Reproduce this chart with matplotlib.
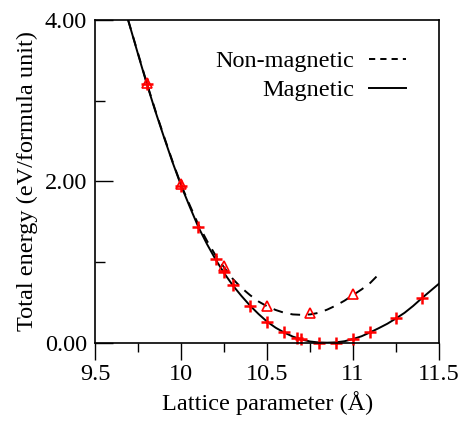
import matplotlib as mpl
mpl.use('Agg')
import matplotlib.pyplot as plt
from matplotlib.ticker import MultipleLocator, FixedLocator

plt.rcParams['font.family'] = ['Liberation Serif', 'DejaVu Serif']

# magnetic calculations (+)
mag_x = [9.8, 10.0, 10.1, 10.2, 10.25, 10.3, 10.4, 10.5, 10.6, 10.675, 10.7,
         10.8, 10.9, 11.0, 11.1, 11.25, 11.4]
mag_y = [3.20, 1.94, 1.43, 1.04, 0.87, 0.71, 0.46, 0.26, 0.13, 0.053, 0.045,
         0.0, 0.0, 0.045, 0.13, 0.30, 0.55]

# non-magnetic calculations (triangles)
nm_x = [9.8, 10.0, 10.25, 10.5, 10.75, 11.0]
nm_y = [3.22, 1.96, 0.95, 0.46, 0.37, 0.60]

# fitted curves
mag_fit_x = [9.69, 9.75, 9.8, 9.85, 9.9, 9.95, 10.0, 10.05, 10.1, 10.15, 10.2,
             10.25, 10.3, 10.35, 10.4, 10.45, 10.5, 10.55, 10.6, 10.65, 10.7,
             10.75, 10.8, 10.85, 10.9, 10.95, 11.0, 11.05, 11.1, 11.15, 11.2,
             11.25, 11.3, 11.35, 11.4, 11.45, 11.5]
mag_fit_y = [4.00, 3.56, 3.20, 2.86, 2.54, 2.23, 1.94, 1.68, 1.43, 1.22, 1.03,
             0.86, 0.71, 0.58, 0.46, 0.355, 0.26, 0.185, 0.125, 0.075, 0.04,
             0.015, 0.003, 0.0, 0.004, 0.018, 0.045, 0.08, 0.128, 0.18, 0.235,
             0.30, 0.37, 0.455, 0.55, 0.64, 0.73]

nm_fit_x = [9.69, 9.75, 9.8, 9.85, 9.9, 9.95, 10.0, 10.05, 10.1, 10.15, 10.2,
            10.25, 10.3, 10.35, 10.4, 10.45, 10.5, 10.55, 10.6, 10.65, 10.7,
            10.75, 10.8, 10.85, 10.9, 10.95, 11.0, 11.05, 11.1, 11.165]
nm_fit_y = [4.00, 3.57, 3.21, 2.87, 2.55, 2.24, 1.95, 1.70, 1.46, 1.26, 1.08,
            0.93, 0.79, 0.68, 0.59, 0.51, 0.45, 0.405, 0.37, 0.35, 0.345,
            0.35, 0.37, 0.41, 0.46, 0.52, 0.59, 0.66, 0.74, 0.88]

x_ticks = [9.5, 10, 10.5, 11, 11.5]
x_tick_labels = ['9.5', '10', '10.5', '11', '11.5']
y_ticks = [0, 2, 4]
y_tick_labels = ['0.00', '2.00', '4.00']

fig = plt.figure(figsize=(4.61, 4.21), dpi=100)
ax = fig.add_axes([0.207, 0.186, 0.745, 0.767])

ax.plot(nm_fit_x, nm_fit_y, color='black', linestyle=(0, (5, 4)), linewidth=1.4,
        label='Non-magnetic')
ax.plot(mag_fit_x, mag_fit_y, color='black', linestyle='-', linewidth=1.4,
        label='Magnetic')
ax.plot(nm_x, nm_y, linestyle='none', marker='^', markersize=7.5, markerfacecolor='none',
        markeredgecolor='red', markeredgewidth=1.2, clip_on=False)
ax.plot(mag_x, mag_y, linestyle='none', marker='+', markersize=9, color='red',
        markeredgewidth=1.8, clip_on=False)

ax.set_xlim(9.5, 11.5)
ax.set_ylim(0, 4)
ax.set_xticks(x_ticks)
ax.set_xticklabels(x_tick_labels)
ax.set_yticks(y_ticks)
ax.set_yticklabels(y_tick_labels)
ax.xaxis.set_minor_locator(MultipleLocator(0.25))
ax.yaxis.set_minor_locator(FixedLocator([1, 3]))

ax.tick_params(axis='x', which='major', direction='out', length=12, width=1,
               labelsize=17.5, pad=3)
ax.tick_params(axis='x', which='minor', direction='out', length=6.5, width=1)
ax.tick_params(axis='y', which='major', direction='in', length=13, width=1,
               labelsize=17.5, pad=6)
ax.tick_params(axis='y', which='minor', direction='in', length=7, width=1)
for s in ax.spines.values():
    s.set_linewidth(1.2)

ax.set_xlabel('Lattice parameter (Å)', fontsize=17.5, labelpad=5)
ax.set_ylabel('Total energy (eV/formula unit)', fontsize=17.5, labelpad=5)

leg = ax.legend(loc='upper right', bbox_to_anchor=(0.905, 0.905), frameon=False,
                markerfirst=False, fontsize=17.5, handlelength=1.55, handletextpad=0.6,
                labelspacing=0.27, borderaxespad=0, borderpad=0)
leg.get_lines()[0].set_linestyle((0, (3.2, 2.6)))

plt.savefig('out.png')
plt.close()
